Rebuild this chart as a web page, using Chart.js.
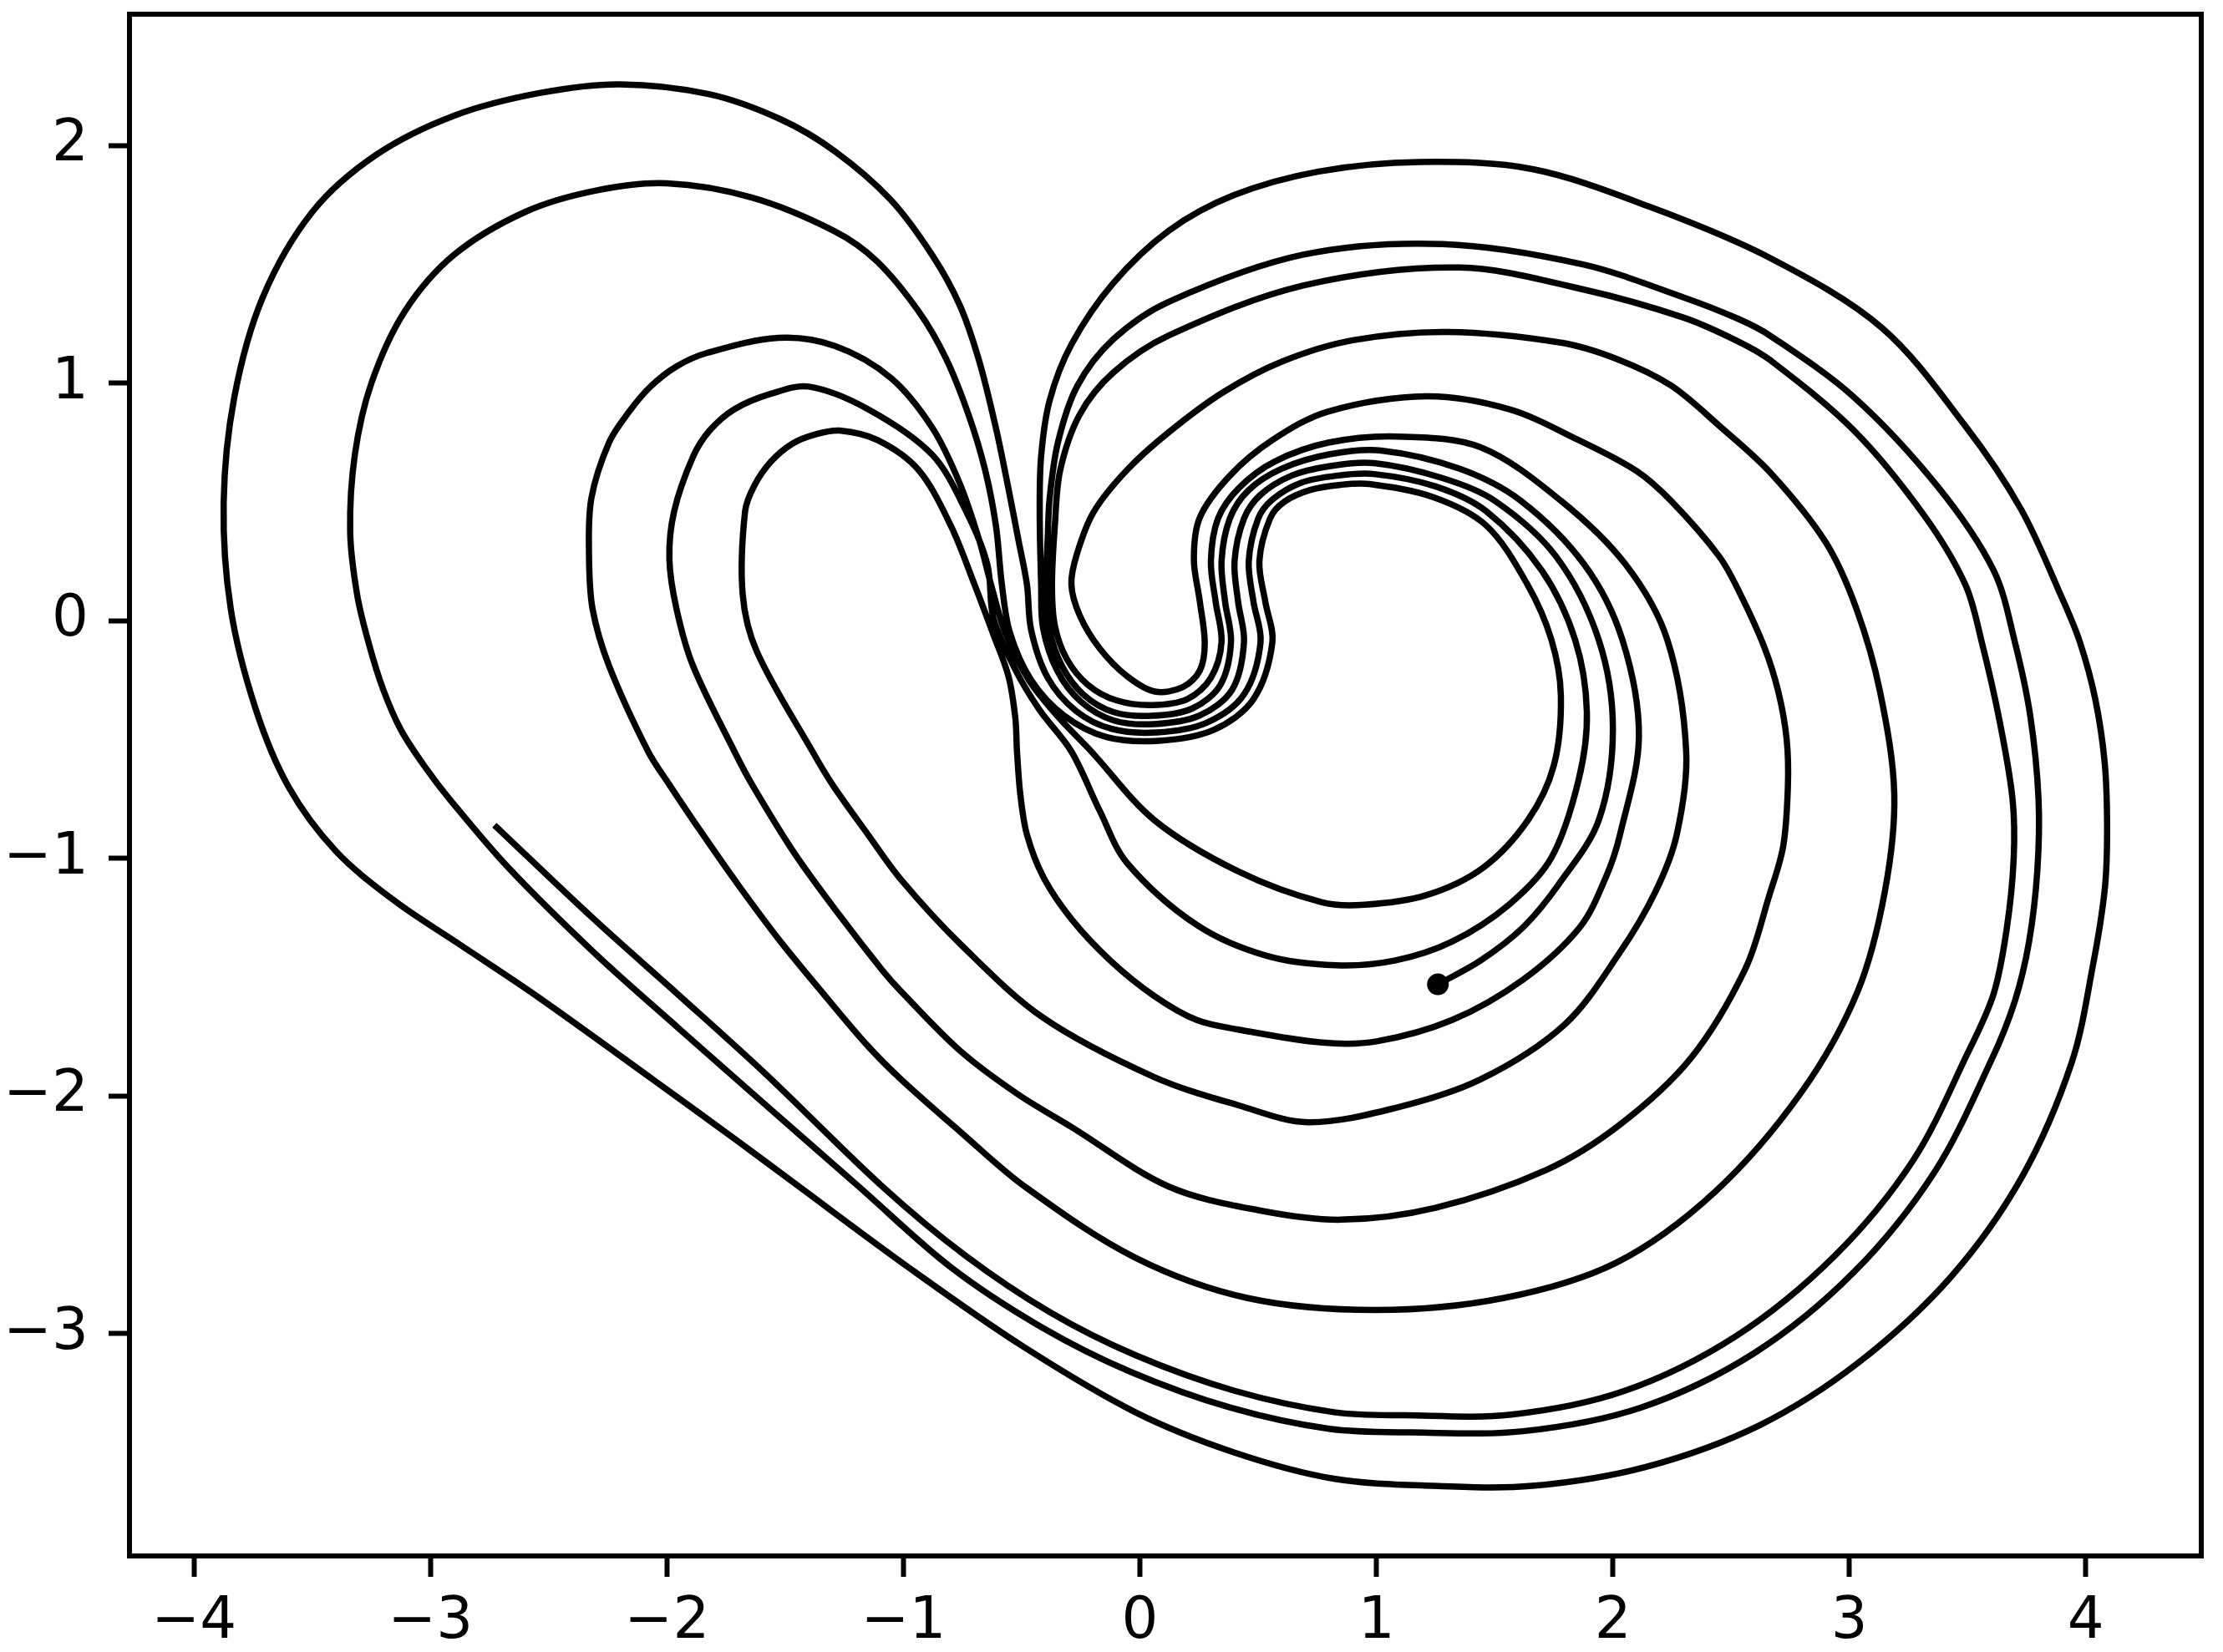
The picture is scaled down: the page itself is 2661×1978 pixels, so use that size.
<!DOCTYPE html>
<html>
<head>
<meta charset="utf-8">
<script src="https://cdn.jsdelivr.net/npm/chart.js@4.4.1/dist/chart.umd.min.js"></script>
<style>
  html, body { margin: 0; padding: 0; background: #ffffff; }
  #wrap { width: 2661px; height: 1978px; }
</style>
</head>
<body>
<div id="wrap"><canvas id="c" width="2661" height="1978"></canvas></div>
<script>
// ---- tick labels ----
const xTickValues = [-4, -3, -2, -1, 0, 1, 2, 3, 4];
const yTickValues = [-3, -2, -1, 0, 1, 2];

// ---- trajectory, in drawing order ----
const startToB3 = [[-2.73,-0.86],[-2.31,-1.255],[-1.945,-1.58],[-1.58,-1.91],[-1.09,-2.38],[-0.74,-2.67],[-0.38,-2.91],[-0.02,-3.09],[0.40,-3.24],[0.82,-3.33],[1.12,-3.343]];
const loopX3R3 = [[1.57,-3.34],[2.05,-3.24],[2.52,-3.01],[2.94,-2.67],[3.27,-2.27],[3.50,-1.82],[3.61,-1.57],[3.665,-1.30],[3.695,-1.0],[3.69,-0.75],[3.635,-0.42],[3.56,-0.09],[3.49,0.153],[3.315,0.445],[3.02,0.80],[2.667,1.095],[2.53,1.175],[2.30,1.275],[1.87,1.395],[1.35,1.486],[0.69,1.41],[0.122,1.20],[-0.114,1.043],[-0.255,0.867],[-0.337,0.635],[-0.36,0.40],[-0.372,0.153]];
const hookU2S2 = [[-0.36,-0.02],[-0.31,-0.16],[-0.22,-0.27],[-0.10,-0.335],[0.05,-0.355],[0.20,-0.33],[0.30,-0.24],[0.345,-0.09],[0.32,0.08],[0.30,0.25],[0.33,0.43],[0.42,0.56],[0.57,0.67],[0.80,0.75],[1.09,0.775]];
const loopX6L5 = [[1.44,0.73],[1.78,0.505],[2.055,0.235],[2.23,-0.08],[2.31,-0.55],[2.27,-0.90],[2.18,-1.14],[2.03,-1.395],[1.795,-1.70],[1.44,-1.93],[1.08,-2.05],[0.71,-2.11],[0.42,-2.04],[0.06,-1.92],[-0.41,-1.67],[-0.76,-1.36],[-1.01,-1.09],[-1.15,-0.90],[-1.30,-0.69],[-1.385,-0.55],[-1.62,-0.13],[-1.68,0.11],[-1.67,0.46],[-1.63,0.57],[-1.56,0.67],[-1.47,0.745],[-1.37,0.785],[-1.27,0.80],[-1.11,0.76],[-0.937,0.635],[-0.80,0.40],[-0.70,0.153]];
const bandB7X7 = [[-0.62,-0.058],[-0.556,-0.234],[-0.527,-0.41],[-0.52,-0.55],[-0.506,-0.73],[-0.478,-0.90],[-0.408,-1.08],[-0.29,-1.255],[-0.125,-1.43],[0.062,-1.58],[0.24,-1.68],[0.416,-1.72],[0.77,-1.775],[1.0,-1.77],[1.32,-1.68],[1.62,-1.51],[1.86,-1.29],[1.97,-1.08],[2.03,-0.90],[2.11,-0.49],[2.04,-0.08],[1.88,0.235],[1.61,0.505],[1.35,0.64],[1.02,0.716]];
const hookS3U3R2 = [[0.80,0.70],[0.60,0.64],[0.46,0.55],[0.38,0.43],[0.345,0.25],[0.36,0.08],[0.385,-0.09],[0.34,-0.27],[0.22,-0.37],[0.05,-0.40],[-0.11,-0.385],[-0.24,-0.31],[-0.33,-0.19],[-0.385,-0.03],[-0.397,0.153],[-0.39,0.35],[-0.382,0.515],[-0.347,0.75],[-0.266,0.986],[-0.114,1.183],[0.122,1.342],[0.69,1.54],[1.28,1.585],[1.87,1.50],[2.30,1.36],[2.53,1.27],[2.667,1.198]];
const loopX2L2 = [[3.02,0.94],[3.373,0.565],[3.61,0.212],[3.70,-0.09],[3.765,-0.40],[3.80,-0.75],[3.795,-1.05],[3.76,-1.35],[3.70,-1.60],[3.60,-1.85],[3.36,-2.32],[3.02,-2.74],[2.60,-3.08],[2.12,-3.31],[1.62,-3.41],[1.15,-3.415],[0.80,-3.40],[0.38,-3.31],[-0.04,-3.16],[-0.42,-2.97],[-0.80,-2.72],[-1.19,-2.38],[-1.58,-2.04],[-1.945,-1.72],[-2.31,-1.395],[-2.67,-1.04],[-2.916,-0.755],[-3.02,-0.62],[-3.125,-0.46],[-3.20,-0.29],[-3.26,-0.10],[-3.31,0.107],[-3.34,0.376],[-3.32,0.70],[-3.25,1.0],[-3.11,1.30],[-2.90,1.54],[-2.60,1.72],[-2.30,1.81],[-2.0,1.84],[-1.64,1.78],[-1.29,1.638],[-1.114,1.514],[-0.937,1.303],[-0.82,1.103],[-0.725,0.867],[-0.655,0.635],[-0.609,0.399],[-0.584,0.153]];
const hookU6S6X10 = [[-0.55,-0.05],[-0.46,-0.25],[-0.32,-0.40],[-0.14,-0.49],[0.08,-0.505],[0.31,-0.46],[0.48,-0.33],[0.56,-0.09],[0.53,0.08],[0.505,0.25],[0.55,0.43],[0.61,0.50],[0.72,0.55],[0.85,0.572],[0.97,0.575],[1.24,0.52],[1.465,0.40],[1.64,0.15],[1.74,-0.08],[1.78,-0.315],[1.75,-0.61],[1.64,-0.84],[1.45,-1.04],[1.21,-1.155],[0.95,-1.195],[0.77,-1.185],[0.416,-1.055],[0.062,-0.84],[-0.206,-0.55]];
const bandL3B4 = [[-0.35,-0.40],[-0.47,-0.25],[-0.57,-0.05],[-0.63,0.153],[-0.68,0.34],[-0.761,0.575],[-0.877,0.81],[-1.054,1.022],[-1.29,1.156],[-1.528,1.19],[-1.83,1.127],[-1.96,1.07],[-2.07,0.985],[-2.16,0.88],[-2.245,0.75],[-2.32,0.515],[-2.33,0.28],[-2.315,0.05],[-2.245,-0.19],[-2.08,-0.55],[-1.99,-0.69],[-1.855,-0.89],[-1.70,-1.11],[-1.52,-1.35],[-1.33,-1.58],[-1.15,-1.79],[-1.01,-1.93],[-0.76,-2.15],[-0.488,-2.38],[-0.02,-2.68],[0.456,-2.85],[0.996,-2.90]];
const loopX4R4 = [[1.536,-2.85],[2.016,-2.70],[2.435,-2.40],[2.80,-1.98],[3.035,-1.56],[3.15,-1.14],[3.19,-0.73],[3.13,-0.30],[3.03,0.05],[2.90,0.33],[2.667,0.622],[2.45,0.82],[2.245,0.99],[2.02,1.10],[1.78,1.17],[1.30,1.215],[0.9,1.18],[0.6,1.09],[0.35,0.96],[0.122,0.793],[-0.054,0.635],[-0.195,0.459],[-0.266,0.283],[-0.29,0.153]];
const hookU1S1 = [[-0.255,0.023],[-0.17,-0.117],[-0.054,-0.234],[0.063,-0.298],[0.18,-0.28],[0.253,-0.21],[0.274,-0.094],[0.253,0.082],[0.228,0.258],[0.253,0.434],[0.38,0.61],[0.56,0.76],[0.795,0.88],[1.21,0.944]];
const loopX5L4 = [[1.56,0.89],[1.855,0.76],[2.10,0.63],[2.25,0.50],[2.45,0.27],[2.535,0.12],[2.64,-0.11],[2.70,-0.30],[2.735,-0.50],[2.74,-0.70],[2.72,-0.95],[2.66,-1.16],[2.56,-1.465],[2.33,-1.84],[2.03,-2.12],[1.72,-2.31],[1.25,-2.47],[0.85,-2.52],[0.5,-2.48],[0.12,-2.38],[-0.29,-2.13],[-0.52,-1.99],[-0.76,-1.81],[-1.01,-1.56],[-1.09,-1.47],[-1.27,-1.24],[-1.46,-0.98],[-1.64,-0.69],[-1.715,-0.55],[-1.89,-0.19],[-1.96,0.05],[-1.99,0.26],[-1.97,0.46],[-1.89,0.69],[-1.82,0.80],[-1.715,0.89],[-1.56,0.955],[-1.40,0.985],[-1.15,0.89],[-0.88,0.70],[-0.735,0.46],[-0.645,0.235]];
const bandB8X9 = [[-0.62,0.012],[-0.53,-0.20],[-0.425,-0.375],[-0.29,-0.55],[-0.17,-0.80],[-0.054,-1.02],[0.24,-1.28],[0.535,-1.41],[0.83,-1.45],[1.077,-1.43],[1.32,-1.35],[1.56,-1.195],[1.74,-0.997],[1.855,-0.67],[1.89,-0.385],[1.84,-0.08],[1.70,0.21],[1.465,0.46],[1.25,0.565],[0.99,0.617]];
const hookS5U5L1 = [[0.83,0.61],[0.68,0.58],[0.56,0.51],[0.50,0.43],[0.46,0.25],[0.48,0.08],[0.51,-0.09],[0.44,-0.31],[0.28,-0.43],[0.07,-0.47],[-0.12,-0.455],[-0.27,-0.38],[-0.39,-0.24],[-0.46,-0.04],[-0.478,0.153],[-0.514,0.34],[-0.56,0.575],[-0.609,0.81],[-0.68,1.093],[-0.761,1.325],[-0.877,1.536],[-1.054,1.771],[-1.29,1.975],[-1.52,2.11],[-1.82,2.215],[-2.20,2.257]];
const loopL1X1 = [[-2.54,2.22],[-2.90,2.125],[-3.23,1.96],[-3.50,1.72],[-3.71,1.36],[-3.83,0.94],[-3.875,0.495],[-3.845,0.05],[-3.74,-0.37],[-3.60,-0.70],[-3.40,-0.97],[-3.15,-1.18],[-2.88,-1.36],[-2.55,-1.58],[-2.06,-1.93],[-1.70,-2.19],[-1.47,-2.36],[-0.98,-2.72],[-0.50,-3.05],[-0.02,-3.33],[0.40,-3.50],[0.82,-3.61],[1.24,-3.64],[1.66,-3.64],[2.14,-3.56],[2.62,-3.385],[3.04,-3.12],[3.43,-2.76],[3.73,-2.34],[3.94,-1.86],[4.03,-1.45],[4.08,-1.13],[4.09,-0.88],[4.08,-0.60],[4.04,-0.33],[3.975,-0.09],[3.90,0.094],[3.726,0.469],[3.49,0.82],[3.137,1.233],[2.667,1.525],[2.16,1.74],[1.66,1.90],[1.18,1.93],[0.756,1.89],[0.396,1.79],[0.122,1.641],[-0.114,1.419],[-0.29,1.162],[-0.382,0.927],[-0.418,0.692],[-0.424,0.459],[-0.418,0.153]];
const hookU4S4X8 = [[-0.41,-0.03],[-0.35,-0.21],[-0.25,-0.34],[-0.11,-0.42],[0.06,-0.435],[0.25,-0.40],[0.39,-0.29],[0.44,-0.09],[0.415,0.08],[0.40,0.25],[0.44,0.43],[0.51,0.53],[0.64,0.61],[0.80,0.65],[0.99,0.663],[1.28,0.60],[1.50,0.505],[1.76,0.27],[1.94,-0.08],[2.0,-0.455],[1.94,-0.84],[1.77,-1.11],[1.62,-1.29],[1.44,-1.43],[1.26,-1.53]];
const endPoint = [1.26, -1.53];

const pieces = [startToB3, loopX3R3, hookU2S2, loopX6L5, bandB7X7, hookS3U3R2, loopX2L2,
  hookU6S6X10, bandL3B4, loopX4R4, hookU1S1, loopX5L4, bandB8X9, hookS5U5L1, loopL1X1, hookU4S4X8];
const path = [].concat(...pieces).map(p => ({x: p[0], y: p[1]}));

// autoscale limits with 5% margins (as the original plotting library does)
const xs = path.map(p => p.x), ys = path.map(p => p.y);
const xMin = Math.min(...xs), xMax = Math.max(...xs), yMin = Math.min(...ys), yMax = Math.max(...ys);
const mx = (xMax - xMin) * 0.05, my = (yMax - yMin) * 0.05;

const fmt = v => (v < 0 ? '\u2212' + Math.abs(v) : String(v));
const FONT = {family: 'DejaVu Sans', size: 69};

const frame = {
  id: 'frame',
  afterDraw(chart) {
    const {ctx, chartArea: a} = chart;
    ctx.save();
    ctx.lineWidth = 6;
    ctx.strokeStyle = '#000';
    ctx.strokeRect(a.left, a.top, a.right - a.left, a.bottom - a.top);
    ctx.restore();
  }
};

new Chart(document.getElementById('c'), {
  type: 'scatter',
  data: {
    datasets: [
      {
        data: path,
        showLine: true,
        borderColor: '#000',
        borderWidth: 7.5,
        pointRadius: 0,
        tension: 0.33,
        borderJoinStyle: 'round',
        borderCapStyle: 'butt',
        fill: false
      },
      {
        data: [{x: endPoint[0], y: endPoint[1]}],
        showLine: false,
        pointRadius: 13,
        pointBackgroundColor: '#000',
        pointBorderWidth: 0
      }
    ]
  },
  options: {
    responsive: false,
    animation: false,
    devicePixelRatio: 1,
    layout: {padding: {top: 17, right: 26, left: 0, bottom: 0}, autoPadding: false},
    plugins: {legend: {display: false}, tooltip: {enabled: false}},
    scales: {
      x: {
        type: 'linear',
        min: xMin - mx,
        max: xMax + mx,
        afterBuildTicks: s => { s.ticks = xTickValues.map(v => ({value: v})); },
        afterFit: s => { s.height = 115; s.paddingLeft = 0; s.paddingRight = 0; },
        grid: {drawOnChartArea: false, drawTicks: true, tickLength: 25, tickWidth: 6, tickColor: '#000'},
        border: {display: false},
        ticks: {color: '#000', font: FONT, padding: 14, maxRotation: 0, autoSkip: false, callback: v => fmt(v)}
      },
      y: {
        type: 'linear',
        min: yMin - my,
        max: yMax + my,
        afterBuildTicks: s => { s.ticks = yTickValues.map(v => ({value: v})); },
        afterFit: s => { s.width = 155; s.paddingTop = 0; s.paddingBottom = 0; },
        grid: {drawOnChartArea: false, drawTicks: true, tickLength: 25, tickWidth: 6, tickColor: '#000'},
        border: {display: false},
        ticks: {color: '#000', font: FONT, padding: 24, autoSkip: false, callback: v => fmt(v)}
      }
    }
  },
  plugins: [frame]
});
</script>
</body>
</html>
